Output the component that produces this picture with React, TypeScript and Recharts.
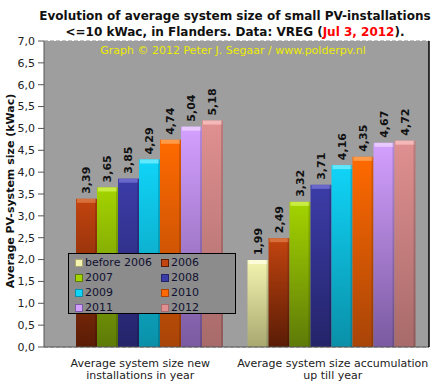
import React from 'react';
import { BarChart, Bar, XAxis, YAxis, CartesianGrid, Legend, LabelList } from 'recharts';

const categories = ['Average system size new|installations in year', 'Average system size accumulation|up till year'];
const seriesNames = ['before 2006', '2006', '2007', '2008', '2009', '2010', '2011', '2012'];
const newInYear = [null, 3.39, 3.65, 3.85, 4.29, 4.74, 5.04, 5.18];
const accumulated = [1.99, 2.49, 3.32, 3.71, 4.16, 4.35, 4.67, 4.72];
const yTicks = [0, 0.5, 1, 1.5, 2, 2.5, 3, 3.5, 4, 4.5, 5, 5.5, 6, 6.5, 7];
const minorTicks = Array.from({ length: 71 }, (_, i) => i / 10);

// top colour, bottom colour, cap colour
const colors = [
  ['#f4f4b0', '#a8a870', '#fcfcd8'],
  ['#c2440f', '#5a1c06', '#d8703c'],
  ['#a4d400', '#5e7a08', '#c8ec40'],
  ['#3c3ca8', '#24246a', '#6868cc'],
  ['#10d4f8', '#0a90a8', '#60e8ff'],
  ['#ff6a00', '#a84408', '#ff9a48'],
  ['#d4a0ff', '#7a5aa0', '#e8c8ff'],
  ['#e09090', '#a86a6a', '#f4b8b8'],
];

const data = categories.map((c, ci) => {
  const row: { [k: string]: string | number | null } = { name: c };
  seriesNames.forEach((s, si) => {
    row[s] = ci === 0 ? newInYear[si] : accumulated[si];
  });
  return row;
});

const fmt = (v: number) => v.toFixed(2).replace('.', ',');

const BarShape = (props: any) => {
  const { x, y, width, height, gi } = props;
  if (!height || height <= 0) return null;
  return (
    <g>
      <rect x={x} y={y} width={width} height={height} fill={`url(#g${gi})`} />
      <rect x={x + 1} y={y} width={width - 2} height={4} fill={colors[gi][2]} />
      <rect x={x + width - 2} y={y} width={2} height={height} fill="rgba(0,0,0,0.15)" />
    </g>
  );
};

const ValueLabel = (props: any) => {
  const { x, y, width, value } = props;
  if (value == null) return null;
  const cx = x + width / 2;
  const ty = y - 5;
  return (
    <text x={cx} y={ty} transform={`rotate(-90 ${cx} ${ty})`} dy={4} textAnchor="start"
      fontFamily="DejaVu Sans" fontWeight="bold" fontSize={11} fill="#111">
      {fmt(value)}
    </text>
  );
};

const XTick = (props: any) => {
  const { x, y, payload } = props;
  const lines = String(payload.value).split('|');
  return (
    <g>
      {lines.map((l, i) => (
        <text key={i} x={x} y={y + 12 + i * 12} textAnchor="middle" fontFamily="DejaVu Sans" fontSize={11} fill="#222">{l}</text>
      ))}
    </g>
  );
};

const renderLegend = () => (
  <div style={{ boxSizing: 'border-box', width: 168, height: 61, background: '#8c8c8c', border: '1px solid #000', display: 'grid', gridTemplateColumns: '86px 80px', gridAutoRows: '15px', paddingTop: 1, fontFamily: 'DejaVu Sans', fontSize: 11, color: '#101030' }}>
    {seriesNames.map((s, i) => (
      <div key={s} style={{ display: 'flex', alignItems: 'center', paddingLeft: 6, whiteSpace: 'nowrap' }}>
        <span style={{ display: 'inline-block', width: 6, height: 6, background: colors[i][0], border: '1px solid ' + colors[i][1], marginRight: 2 }} />
        {s}
      </div>
    ))}
  </div>
);

export default function App() {
  return (
    <div style={{ position: 'absolute', left: 0, top: 0, width: 441, height: 391, background: '#fff' }}>
      <div style={{ position: 'absolute', left: 0, top: 8, width: 470, textAlign: 'center', fontFamily: 'DejaVu Sans', fontWeight: 'bold', fontSize: 12, lineHeight: '16px', color: '#111' }}>
        Evolution of average system size of small PV-installations<br />
        &lt;=10 kWac, in Flanders. Data: VREG (<span style={{ color: '#ff0000' }}>Jul 3, 2012</span>).
      </div>
      <BarChart width={441} height={391} data={data} margin={{ top: 41, right: 0, bottom: 14, left: 0 }}
        barCategoryGap={11} barGap={0}>
        <defs>
          {colors.map((c, i) => (
            <linearGradient key={i} id={`g${i}`} x1="0" y1="0" x2="0" y2="1">
              <stop offset="0%" stopColor={c[0]} />
              <stop offset="100%" stopColor={c[1]} />
            </linearGradient>
          ))}
        </defs>
        <rect x={44} y={41} width={385} height={306} fill="#9e9e9e" />
        <CartesianGrid vertical={false} stroke="#858585" strokeDasharray="4 2" />
        <XAxis dataKey="name" height={30} tick={<XTick />} tickLine={false} axisLine={{ stroke: '#555' }} interval={0} />
        <YAxis yAxisId="minor" domain={[0, 7]} ticks={minorTicks} width={0} tick={() => <g />} tickSize={3}
          tickLine={{ stroke: '#777' }} axisLine={false} allowDataOverflow />
        <YAxis domain={[0, 7]} ticks={yTicks} width={44} tickSize={6} tickMargin={3}
          tickLine={{ stroke: '#555' }} axisLine={{ stroke: '#555' }}
          tickFormatter={(v: number) => v.toFixed(1).replace('.', ',')}
          tick={{ fontFamily: 'DejaVu Sans', fontSize: 11, fill: '#222' }} />
        <YAxis yAxisId="right" orientation="right" domain={[0, 7]} width={12} tick={false} tickLine={false}
          axisLine={{ stroke: '#000', strokeWidth: 1.5 }} />
        <Legend layout="horizontal" verticalAlign="middle" content={renderLegend}
          wrapperStyle={{ left: 68, top: 253, width: 168, height: 61 }} />
        {seriesNames.map((s, i) => (
          <Bar key={s} dataKey={s} fill={colors[i][0]} isAnimationActive={false}
            shape={(p: any) => <BarShape {...p} gi={i} />}>
            <LabelList dataKey={s} content={<ValueLabel />} />
          </Bar>
        ))}
        <text x={233} y={54} textAnchor="middle" fontFamily="DejaVu Sans" fontSize={11} fill="#ecec00">Graph © 2012 Peter J. Segaar / www.polderpv.nl</text>
        <text x={10} y={191} transform="rotate(-90 10 191)" dy={4} textAnchor="middle" fontFamily="DejaVu Sans" fontWeight="bold" fontSize={11} fill="#111">Average PV-system size (kWac)</text>
      </BarChart>
    </div>
  );
}
